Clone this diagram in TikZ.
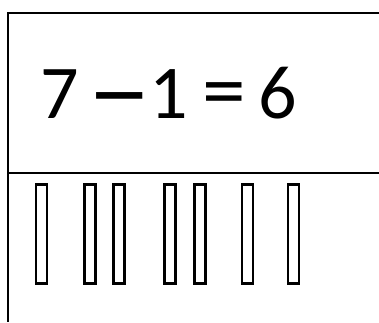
\documentclass[tikz,border=0pt]{standalone}
\usepackage{fontspec}
\setmainfont{Carlito}
\tikzset{every picture/.style={line width=2pt}}
\tikzset{
    bar/.style={draw, line width=2.6pt, minimum width=11pt, minimum height=99pt, inner sep=0pt},
    sum/.style={font=\fontsize{76}{80}\selectfont, inner sep=0pt, anchor=base west},
}

\begin{document}
\begin{tikzpicture}[x=1pt,y=-1pt]
    \useasboundingbox (0,0) rectangle (379,322);
    % frame
    \coordinate (tl) at (8,13);
    \coordinate (tr) at (379,13);
    \coordinate (ml) at (8,173);
    \coordinate (mr) at (379,173);
    \coordinate (bl) at (8,322);
    \draw (tr) -- (tl) -- (bl);
    \draw (ml) -- (mr);
    % equation
    \node[sum] (eq) at (39,118)
        {7\hspace{9pt}\raisebox{-7pt}{\scalebox{1.7}[1.4]{–}}\hspace{-2pt}1\hspace{14pt}\scalebox{1.15}[1.1]{=}\hspace{13pt}6};
    % counting bars
    \foreach \x [count=\i] in {41.5,90,119,170,200,247.5,293.5} {
        \node[bar] (b\i) at (\x,234) {};
    }
\end{tikzpicture}
\end{document}
